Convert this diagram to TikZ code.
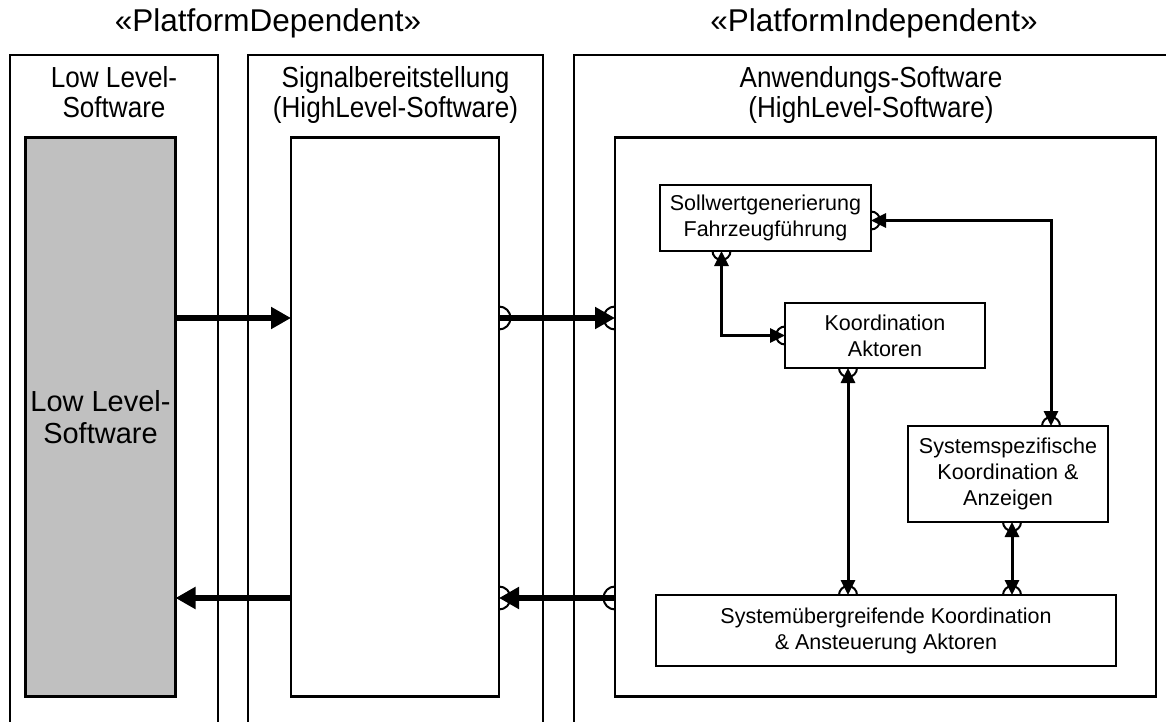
\documentclass[tikz,border=0pt]{standalone}
\usepackage{fontspec}
\setmainfont{Liberation Sans}
\newfontfamily\hdrfont[FakeStretch=0.9]{Liberation Sans}
\usetikzlibrary{arrows.meta}
\definecolor{llgray}{HTML}{C0C0C0}
\newcommand{\mysock}[3]{\draw[line width=2pt] (#1) ++(#2:#3) arc[start angle=#2, delta angle=180, radius=#3];}
\begin{document}
\begin{tikzpicture}[x=1pt,y=-1pt,
 colline/.style={line width=1.3pt},
 bigbox/.style={draw, line width=2.5pt, anchor=north west, inner sep=0pt, outer sep=0pt, align=center, font=\fontsize{29}{32}\selectfont},
 compbox/.style={draw, line width=2.5pt, anchor=north west, align=center, inner sep=0pt, outer sep=0pt, font=\fontsize{21.5}{26}\selectfont},
 titletext/.style={font=\fontsize{31.5}{34}\selectfont},
 hdrtext/.style={align=center, font=\hdrfont\fontsize{29}{30}\selectfont},
 thickflow/.style={line width=5.5pt, -{Triangle[length=20pt,width=21pt]}},
 innerflow/.style={line width=3pt, {Triangle[length=15pt,width=14pt]}-{Triangle[length=15pt,width=14pt]}},
]
\useasboundingbox (0,0) rectangle (1166,722);

% stereotypes
\node[titletext] (tdep) at (268,23) {«PlatformDependent»};
\node[titletext] (tind) at (874,23) {«PlatformIndependent»};

% columns
\draw[colline] (10,725) -- (10,55) -- (218,55) -- (218,725);
\draw[colline] (248,725) -- (248,55) -- (543,55) -- (543,725);
\draw[colline] (574,725) -- (574,55) -- (1170,55);

\node[hdrtext] (h1) at (114,92) {Low Level-\\Software};
\node[hdrtext] (h2) at (395.5,95) {Signalbereitstellung\\(HighLevel-Software)};
\node[hdrtext] (h3) at (871,95) {Anwendungs-Software\\(HighLevel-Software)};

% big boxes
\node[bigbox, fill=llgray, minimum width=150pt, minimum height=559pt] (llsw) at (25.5,137.5) {Low Level-\\Software};
\node[bigbox, minimum width=208pt, minimum height=559pt] (hls) at (291,137.5) {};
\node[bigbox, minimum width=541pt, minimum height=559pt] (app) at (615,137.5) {};

% components
\node[compbox, minimum width=211pt, minimum height=66pt] (sw) at (660,185) {Sollwertgenerierung\\Fahrzeugführung};
\node[compbox, minimum width=200pt, minimum height=65pt] (ko) at (785,303) {Koordination\\Aktoren};
\node[compbox, minimum width=200pt, minimum height=96pt] (ss) at (908,426) {Systemspezifische\\Koordination \&\\Anzeigen};
\node[compbox, minimum width=460pt, minimum height=71pt] (su) at (656,595) {Systemübergreifende Koordination\\\& Ansteuerung Aktoren};

% lanes
\coordinate (rowA) at (0,318);
\coordinate (rowB) at (0,598);
\coordinate (rowSW) at (0,220.5);
\coordinate (laneSW) at (721.5,0);
\coordinate (laneKO) at (848,0);
\coordinate (laneSS) at (1051,0);
\coordinate (laneSU) at (1012,0);

% thick flows
\draw[thickflow] (llsw.east |- rowA) -- (hls.west |- rowA);
\draw[thickflow] (hls.east |- rowA) -- (app.west |- rowA);
\draw[thickflow] (app.west |- rowB) -- (hls.east |- rowB);
\draw[thickflow] (hls.west |- rowB) -- (llsw.east |- rowB);
\mysock{hls.east |- rowA}{-90}{11.5pt}
\mysock{app.west |- rowA}{90}{11.5pt}
\mysock{app.west |- rowB}{90}{11.5pt}
\mysock{hls.east |- rowB}{-90}{11.5pt}

% inner flows
\draw[innerflow] (sw.south -| laneSW) |- (ko.west);
\draw[innerflow] (sw.east |- rowSW) -| (ss.north -| laneSS);
\draw[innerflow] (ko.south -| laneKO) -- (su.north -| laneKO);
\draw[innerflow] (ss.south -| laneSU) -- (su.north -| laneSU);
\mysock{sw.south -| laneSW}{180}{9pt}
\mysock{ko.west}{90}{9pt}
\mysock{sw.east |- rowSW}{-90}{9pt}
\mysock{ss.north -| laneSS}{0}{9pt}
\mysock{ko.south -| laneKO}{180}{9pt}
\mysock{su.north -| laneKO}{0}{9pt}
\mysock{ss.south -| laneSU}{180}{9pt}
\mysock{su.north -| laneSU}{0}{9pt}
\end{tikzpicture}
\end{document}
